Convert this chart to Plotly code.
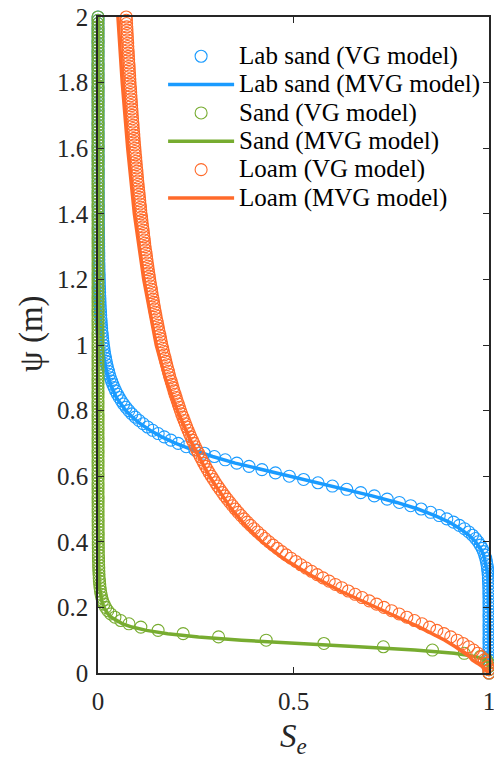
import plotly.graph_objects as go

# suction head grid (m) of the VG-model markers
psi = [
    0.00, 0.01, 0.02, 0.03, 0.04, 0.05, 0.06, 0.07, 0.08, 0.09,
    0.10, 0.11, 0.12, 0.13, 0.14, 0.15, 0.16, 0.17, 0.18, 0.19,
    0.20, 0.21, 0.22, 0.23, 0.24, 0.25, 0.26, 0.27, 0.28, 0.29,
    0.30, 0.31, 0.32, 0.33, 0.34, 0.35, 0.36, 0.37, 0.38, 0.39,
    0.40, 0.41, 0.42, 0.43, 0.44, 0.45, 0.46, 0.47, 0.48, 0.49,
    0.50, 0.51, 0.52, 0.53, 0.54, 0.55, 0.56, 0.57, 0.58, 0.59,
    0.60, 0.61, 0.62, 0.63, 0.64, 0.65, 0.66, 0.67, 0.68, 0.69,
    0.70, 0.71, 0.72, 0.73, 0.74, 0.75, 0.76, 0.77, 0.78, 0.79,
    0.80, 0.81, 0.82, 0.83, 0.84, 0.85, 0.86, 0.87, 0.88, 0.89,
    0.90, 0.91, 0.92, 0.93, 0.94, 0.95, 0.96, 0.97, 0.98, 0.99,
    1.00, 1.01, 1.02, 1.03, 1.04, 1.05, 1.06, 1.07, 1.08, 1.09,
    1.10, 1.11, 1.12, 1.13, 1.14, 1.15, 1.16, 1.17, 1.18, 1.19,
    1.20, 1.21, 1.22, 1.23, 1.24, 1.25, 1.26, 1.27, 1.28, 1.29,
    1.30, 1.31, 1.32, 1.33, 1.34, 1.35, 1.36, 1.37, 1.38, 1.39,
    1.40, 1.41, 1.42, 1.43, 1.44, 1.45, 1.46, 1.47, 1.48, 1.49,
    1.50, 1.51, 1.52, 1.53, 1.54, 1.55, 1.56, 1.57, 1.58, 1.59,
    1.60, 1.61, 1.62, 1.63, 1.64, 1.65, 1.66, 1.67, 1.68, 1.69,
    1.70, 1.71, 1.72, 1.73, 1.74, 1.75, 1.76, 1.77, 1.78, 1.79,
    1.80, 1.81, 1.82, 1.83, 1.84, 1.85, 1.86, 1.87, 1.88, 1.89,
    1.90, 1.91, 1.92, 1.93, 1.94, 1.95, 1.96, 1.97, 1.98, 1.99,
    2.00,
]

lab_sand_vg = [
    1, 1, 1, 1, 1, 1, 1, 1, 1, 1,
    1, 1, 1, 1, 1, 1, 1, 1, 1, 1,
    1, 1, 0.9999, 0.9998, 0.9997, 0.9996, 0.9994, 0.9992, 0.9988, 0.9984,
    0.9979, 0.9971, 0.9962, 0.9950, 0.9934, 0.9915, 0.9891, 0.9861, 0.9824, 0.9778,
    0.9723, 0.9657, 0.9577, 0.9483, 0.9372, 0.9243, 0.9093, 0.8921, 0.8727, 0.8507,
    0.8264, 0.7997, 0.7707, 0.7396, 0.7066, 0.6719, 0.6361, 0.5995, 0.5626, 0.5258,
    0.4893, 0.4538, 0.4193, 0.3863, 0.3550, 0.3254, 0.2976, 0.2717, 0.2477, 0.2256,
    0.2051, 0.1865, 0.1694, 0.1539, 0.1398, 0.1270, 0.1153, 0.1048, 0.0953, 0.0866,
    0.0788, 0.0718, 0.0654, 0.0597, 0.0543, 0.0496, 0.0453, 0.0414, 0.0379, 0.0347,
    0.0318, 0.0292, 0.0268, 0.0246, 0.0226, 0.0208, 0.0191, 0.0176, 0.0162, 0.0150,
    0.0138, 0.0127, 0.0118, 0.0109, 0.0101, 0.0093, 0.0087, 0.0080, 0.0075, 0.0069,
    0.0064, 0.0060, 0.0056, 0.0052, 0.0048, 0.0045, 0.0042, 0.0039, 0.0037, 0.0034,
    0.0032, 0.0030, 0.0028, 0.0026, 0.0025, 0.0023, 0.0022, 0.0020, 0.0019, 0.0018,
    0.0017, 0.0016, 0.0015, 0.0014, 0.0013, 0.0012, 0.0012, 0.0011, 0.0010, 0.0010,
    0.0009, 0.0009, 0.0008, 0.0008, 0.0007, 0.0007, 0.0007, 0.0006, 0.0006, 0.0006,
    0.0005, 0.0005, 0.0005, 0.0005, 0.0004, 0.0004, 0.0004, 0.0004, 0.0004, 0.0003,
    0.0003, 0.0003, 0.0003, 0.0003, 0.0003, 0.0003, 0.0002, 0.0002, 0.0002, 0.0002,
    0.0002, 0.0002, 0.0002, 0.0002, 0.0002, 0.0002, 0.0002, 0.0001, 0.0001, 0.0001,
    0.0001, 0.0001, 0.0001, 0.0001, 0.0001, 0.0001, 0.0001, 0.0001, 0.0001, 0.0001,
    0.0001, 0.0001, 0.0001, 0.0001, 0.0001, 0.0001, 0.0001, 0.0001, 0.0001, 0.0001,
    0.0001,
]

sand_vg = [
    1.0, 1.0, 0.9999, 0.9989, 0.9941, 0.9777, 0.9366, 0.8553, 0.7298, 0.5778,
    0.4301, 0.3083, 0.2177, 0.1537, 0.1096, 0.0792, 0.0581, 0.0433, 0.0327, 0.0250,
    0.0194, 0.0153, 0.0121, 0.0097, 0.0078, 0.0064, 0.0053, 0.0044, 0.0036, 0.0030,
    0.0026, 0.0022, 0.0019, 0.0016, 0.0014, 0.0012, 0.0010, 0.0009, 0.0008, 0.0007,
    0.0006, 0.0005, 0.0005, 0.0004, 0.0004, 0.0003, 0.0003, 0.0003, 0.0003, 0.0002,
    0.0002, 0.0002, 0.0002, 0.0002, 0.0002, 0.0001, 0.0001, 0.0001, 0.0001, 0.0001,
    0.0001, 0.0001, 0.0001, 0.0001, 0.0001, 0.0001, 0.0001, 0.0001, 0.0001, 0.0001,
    0.0001, 0.0001, 0.0001, 0.0001, 0.0001, 0.0001, 0.0001, 0.0001, 0.0001, 0.0001,
    0, 0, 0, 0, 0, 0, 0, 0, 0, 0,
    0, 0, 0, 0, 0, 0, 0, 0, 0, 0,
    0, 0, 0, 0, 0, 0, 0, 0, 0, 0,
    0, 0, 0, 0, 0, 0, 0, 0, 0, 0,
    0, 0, 0, 0, 0, 0, 0, 0, 0, 0,
    0, 0, 0, 0, 0, 0, 0, 0, 0, 0,
    0, 0, 0, 0, 0, 0, 0, 0, 0, 0,
    0, 0, 0, 0, 0, 0, 0, 0, 0, 0,
    0, 0, 0, 0, 0, 0, 0, 0, 0, 0,
    0, 0, 0, 0, 0, 0, 0, 0, 0, 0,
    0, 0, 0, 0, 0, 0, 0, 0, 0, 0,
    0, 0, 0, 0, 0, 0, 0, 0, 0, 0,
    0,
]

loam_vg = [
    1.0, 0.9994, 0.9973, 0.9936, 0.9880, 0.9805, 0.9713, 0.9604, 0.9479, 0.9339,
    0.9186, 0.9022, 0.8848, 0.8667, 0.8479, 0.8288, 0.8094, 0.7898, 0.7702, 0.7508,
    0.7315, 0.7125, 0.6938, 0.6756, 0.6577, 0.6403, 0.6234, 0.6070, 0.5911, 0.5756,
    0.5607, 0.5463, 0.5323, 0.5189, 0.5060, 0.4934, 0.4814, 0.4698, 0.4586, 0.4477,
    0.4373, 0.4273, 0.4176, 0.4082, 0.3991, 0.3904, 0.3820, 0.3739, 0.3661, 0.3585,
    0.3512, 0.3441, 0.3373, 0.3307, 0.3243, 0.3181, 0.3121, 0.3063, 0.3007, 0.2952,
    0.2899, 0.2848, 0.2798, 0.2750, 0.2704, 0.2658, 0.2614, 0.2571, 0.2529, 0.2488,
    0.2449, 0.2411, 0.2374, 0.2338, 0.2303, 0.2269, 0.2235, 0.2203, 0.2171, 0.2140,
    0.2109, 0.2081, 0.2053, 0.2025, 0.1997, 0.1969, 0.1944, 0.1919, 0.1894, 0.1869,
    0.1844, 0.1822, 0.1800, 0.1778, 0.1756, 0.1734, 0.1714, 0.1694, 0.1674, 0.1654,
    0.1634, 0.1617, 0.1600, 0.1582, 0.1565, 0.1548, 0.1531, 0.1514, 0.1497, 0.1480,
    0.1463, 0.1449, 0.1435, 0.1420, 0.1406, 0.1392, 0.1378, 0.1364, 0.1349, 0.1335,
    0.1321, 0.1309, 0.1297, 0.1286, 0.1274, 0.1262, 0.1250, 0.1238, 0.1227, 0.1215,
    0.1203, 0.1193, 0.1183, 0.1173, 0.1163, 0.1153, 0.1142, 0.1132, 0.1122, 0.1112,
    0.1102, 0.1093, 0.1085, 0.1076, 0.1068, 0.1059, 0.1050, 0.1042, 0.1033, 0.1025,
    0.1016, 0.1009, 0.1001, 0.0994, 0.0986, 0.0979, 0.0971, 0.0964, 0.0956, 0.0949,
    0.0941, 0.0935, 0.0928, 0.0922, 0.0915, 0.0909, 0.0902, 0.0896, 0.0889, 0.0883,
    0.0876, 0.0870, 0.0865, 0.0859, 0.0853, 0.0848, 0.0842, 0.0836, 0.0830, 0.0825,
    0.0819, 0.0814, 0.0809, 0.0804, 0.0799, 0.0794, 0.0788, 0.0783, 0.0778, 0.0773,
    0.0768, 0.0763, 0.0759, 0.0754, 0.0750, 0.0745, 0.0740, 0.0736, 0.0731, 0.0727,
    0.0722,
]

# MVG model curves (solid lines)
lab_sand_mvg_psi = [0.00, 0.10, 0.20, 0.30, 0.34, 0.36, 0.38, 0.40, 0.42, 0.44,
                    0.46, 0.48, 0.50, 0.52, 0.54, 0.56, 0.58, 0.60, 0.62, 0.64,
                    0.66, 0.68, 0.70, 0.72, 0.74, 0.76, 0.78, 0.80, 0.84, 0.88,
                    0.92, 0.96, 1.00, 1.10, 1.20, 1.40, 1.60, 2.00]
lab_sand_mvg_se = [1.0, 1.0, 0.9995, 0.997, 0.991, 0.986, 0.978, 0.966, 0.949, 0.926,
                   0.898, 0.862, 0.818, 0.764, 0.701, 0.631, 0.558, 0.485, 0.415, 0.351,
                   0.293, 0.242, 0.199, 0.163, 0.133, 0.108, 0.088, 0.071, 0.047, 0.032,
                   0.022, 0.015, 0.011, 0.005, 0.0025, 0.0007, 0.0002, 0.0]

sand_mvg_psi = [0.00, 0.01, 0.02, 0.03, 0.04, 0.05, 0.06, 0.07, 0.08, 0.09,
                0.10, 0.11, 0.12, 0.13, 0.14, 0.15, 0.16, 0.17, 0.18, 0.19,
                0.20, 0.22, 0.24, 0.26, 0.28, 0.30, 0.35, 0.40, 0.50, 0.70,
                1.00, 1.50, 2.00]
sand_mvg_se = [1.0, 1.0, 0.9998, 0.998, 0.991, 0.967, 0.911, 0.810, 0.666, 0.508,
               0.367, 0.257, 0.178, 0.124, 0.087, 0.063, 0.046, 0.034, 0.0255, 0.0194,
               0.0152, 0.0094, 0.0061, 0.0041, 0.0028, 0.0020, 0.0009, 0.0005, 0.0002, 0.0,
               0.0, 0.0, 0.0]

loam_mvg_psi = [0.00, 0.01, 0.02, 0.03, 0.04, 0.05, 0.06, 0.07, 0.08, 0.10,
                0.12, 0.14, 0.16, 0.18, 0.20, 0.22, 0.25, 0.30, 0.35, 0.40,
                0.45, 0.50, 0.60, 0.70, 0.80, 0.90, 1.00, 1.20, 1.40, 1.60,
                1.80, 2.00]
loam_mvg_se = [1.0, 0.992, 0.982, 0.970, 0.957, 0.950, 0.939, 0.926, 0.914, 0.887,
               0.856, 0.822, 0.785, 0.748, 0.711, 0.674, 0.620, 0.541, 0.473, 0.419,
               0.377, 0.341, 0.285, 0.240, 0.203, 0.172, 0.149, 0.117, 0.093, 0.076,
               0.062, 0.051]

assert len(psi) == len(lab_sand_vg) == len(sand_vg) == len(loam_vg)

BLUE = "#1a9bff"
GREEN = "#77ac30"
ORANGE = "#ff6a2a"
FONT = "Liberation Serif"
AX = "#262626"

fig = go.Figure()


def label(text):
    return f'<span style="font-size:25px">{text}</span>'


def add_pair(name, se_vg, psi_line, se_line, color):
    fig.add_trace(go.Scatter(
        x=se_vg, y=psi, mode="markers", name=label(f"{name} (VG model)"),
        marker=dict(symbol="circle-open", size=12, color=color, line=dict(width=1.1, color=color)),
        cliponaxis=False,
    ))
    fig.add_trace(go.Scatter(
        x=se_line, y=psi_line, mode="lines", name=label(f"{name} (MVG model)"),
        line=dict(color=color, width=3.5),
    ))


add_pair("Lab sand", lab_sand_vg, lab_sand_mvg_psi, lab_sand_mvg_se, BLUE)
add_pair("Sand", sand_vg, sand_mvg_psi, sand_mvg_se, GREEN)
add_pair("Loam", loam_vg, loam_mvg_psi, loam_mvg_se, ORANGE)

axis_common = dict(
    showgrid=False, zeroline=False, showline=True, linecolor=AX, linewidth=1.5,
    mirror="ticks", ticks="inside", ticklen=6.5, tickwidth=1.3, tickcolor=AX,
    tickfont=dict(family=FONT, size=25, color=AX), automargin=False,
    ticklabeloverflow="allow",
)

fig.update_layout(
    width=494, height=767,
    margin=dict(l=98, r=5, t=17, b=94),
    paper_bgcolor="white", plot_bgcolor="white",
    font=dict(family=FONT, color=AX),
    showlegend=True,
    legend=dict(
        x=0.1665, y=0.9694, xanchor="left", yanchor="top",
        bgcolor="rgba(0,0,0,0)", borderwidth=0,
        font=dict(family=FONT, size=19.5, color="#000000"),
        itemwidth=66, tracegroupgap=0,
    ),
    xaxis=dict(
        range=[0, 1], tickvals=[0, 0.5, 1], ticktext=["0", "0.5", "1"],
        ticklabelstandoff=5,
        title=dict(text="<i>S</i><sub><i>e</i></sub>", font=dict(family=FONT, size=33, color=AX), standoff=10),
        **axis_common,
    ),
    yaxis=dict(
        range=[0, 2], tickvals=[0, 0.2, 0.4, 0.6, 0.8, 1, 1.2, 1.4, 1.6, 1.8, 2],
        ticktext=["0", "0.2", "0.4", "0.6", "0.8", "1", "1.2", "1.4", "1.6", "1.8", "2"],
        ticklabelstandoff=3,
        **axis_common,
    ),
    annotations=[dict(
        text="ψ (m)", textangle=-90, showarrow=False,
        xref="paper", yref="paper", x=-0.1714, y=0.5, yshift=12,
        xanchor="center", yanchor="middle",
        font=dict(family=FONT, size=33, color=AX),
    )],
)

fig.write_html(
    "out.html",
    config={"displayModeBar": False},
    post_script="document.body.style.margin='0';document.body.style.overflow='hidden';",
)
